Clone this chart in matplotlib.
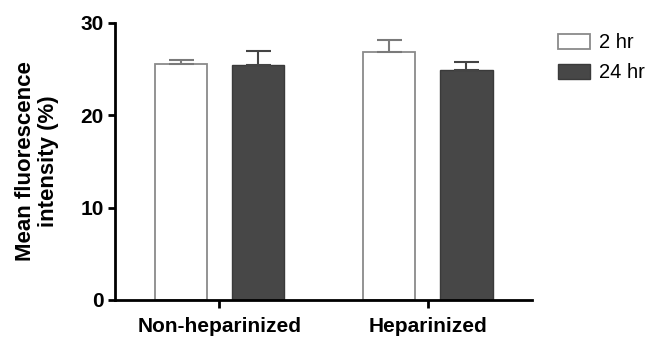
import matplotlib
matplotlib.use("Agg")
import matplotlib.pyplot as plt
import numpy as np

plt.rcParams['font.family'] = ['Liberation Sans', 'DejaVu Sans']

categories = ["Non-heparinized", "Heparinized"]
series = ["2 hr", "24 hr"]
values_2hr = [25.5, 26.9]
err_2hr = [0.5, 1.2]
values_24hr = [25.4, 24.9]
err_24hr = [1.6, 0.9]
yticks = [0, 10, 20, 30]

fig = plt.figure(figsize=(6.57, 3.37), dpi=100)
ax = fig.add_axes([0.175, 0.110, 0.635, 0.822])

x = np.arange(len(categories))
w = 0.25
off = 0.185
ax.bar(x - off, values_2hr, w, color='white', edgecolor='#8a8a8a', linewidth=1.3,
       yerr=[np.zeros(2), err_2hr], error_kw=dict(ecolor='#7a7a7a', elinewidth=1.5, capsize=9, capthick=1.5),
       label=series[0], zorder=2)
ax.bar(x + off, values_24hr, w, color='#474747', edgecolor='#3a3a3a', linewidth=1.0,
       yerr=[np.zeros(2), err_24hr], error_kw=dict(ecolor='#444444', elinewidth=1.5, capsize=9, capthick=1.5),
       label=series[1], zorder=2)

ax.set_xlim(-0.5, 1.5)
ax.set_ylim(0, 30)
ax.set_yticks(yticks)
ax.set_xticks(x)
ax.set_xticklabels(categories, fontsize=15, fontweight='bold')
ax.tick_params(axis='y', labelsize=15, width=2, length=5, direction='out', pad=3)
ax.tick_params(axis='x', width=2, length=6, direction='out', pad=6)
for t in ax.get_yticklabels():
    t.set_fontweight('bold')
for s in ['top', 'right']:
    ax.spines[s].set_visible(False)
for s in ['left', 'bottom']:
    ax.spines[s].set_linewidth(2)
ax.set_ylabel("Mean fluorescence\nintensity (%)", fontsize=16, fontweight='bold', linespacing=1.1)
ax.yaxis.set_label_coords(-0.135, 0.5)

leg = fig.legend(loc='upper left', bbox_to_anchor=(0.837, 0.925), frameon=False, fontsize=14.5,
                 handlelength=1.6, handleheight=0.75, handletextpad=0.45, labelspacing=0.55, borderaxespad=0)

fig.savefig("out.png", dpi=100)
